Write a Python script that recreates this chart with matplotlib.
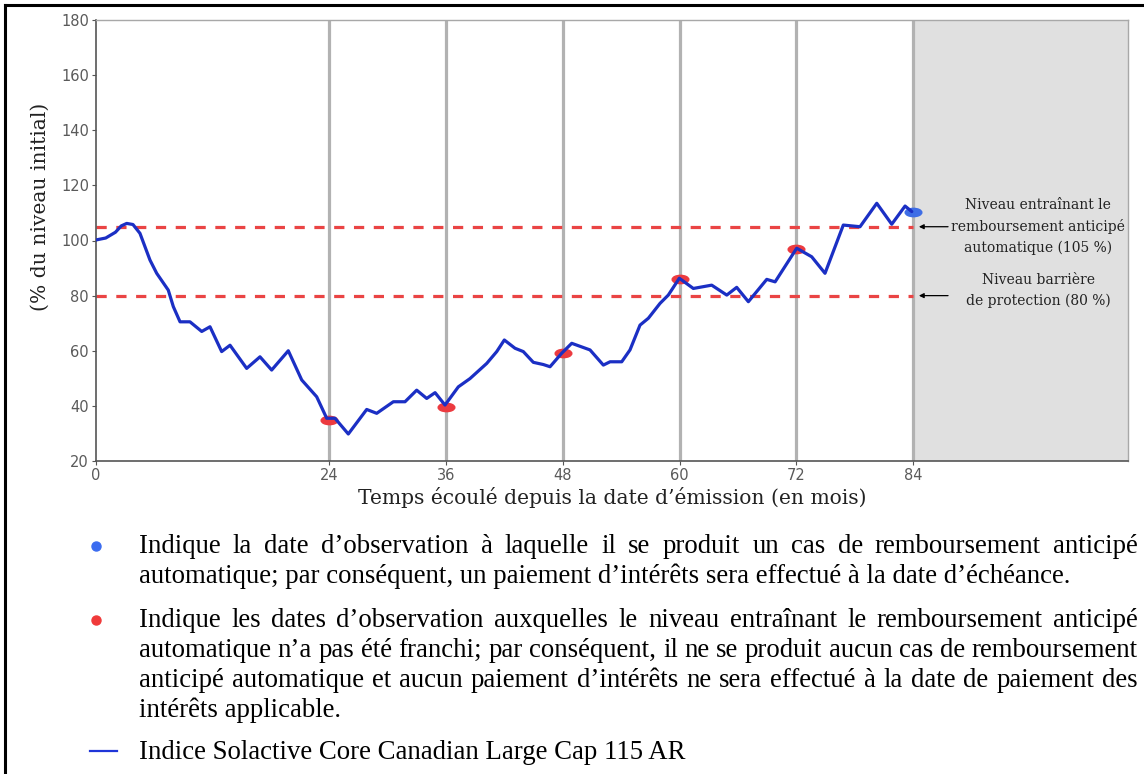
import matplotlib
matplotlib.use('Agg')
import matplotlib.pyplot as plt
from matplotlib.lines import Line2D
from matplotlib.markers import MarkerStyle
from matplotlib.path import Path
from matplotlib.transforms import Affine2D

W, H = 1144, 774

# traced index level (% of initial level) against months since issue
months = [
    0.0, 1.0, 2.0, 2.6, 3.16, 3.8, 4.52, 5.55, 6.24, 7.43, 7.95, 8.64, 9.66,
    10.87, 11.72, 12.92, 13.78, 15.49, 16.86, 18.06, 19.77, 21.15, 22.69,
    23.72, 24.57, 25.94, 27.83, 28.86, 30.57, 31.77, 32.97, 34.0, 34.86,
    35.88, 37.25, 38.45, 40.17, 41.2, 41.98, 43.08, 43.93, 44.96, 45.99,
    46.68, 47.88, 48.91, 50.79, 52.16, 52.85, 54.05, 54.9, 55.93, 56.79,
    57.99, 58.84, 59.97, 61.41, 63.3, 64.85, 65.87, 67.07, 68.96, 69.82,
    72.04, 73.58, 74.95, 76.83, 78.55, 80.27, 81.81, 83.18, 83.87,
]
levels = [
    100.2, 100.9, 103.0, 105.3, 106.2, 105.8, 102.6, 92.9, 88.1, 82.0, 76.0, 70.5, 70.5,
    67.0, 68.7, 59.7, 62.0, 53.6, 57.8, 53.0, 60.0, 49.4, 43.3,
    35.5, 35.5, 29.8, 38.7, 37.3, 41.5, 41.5, 45.7, 42.7, 44.8,
    40.3, 46.9, 49.9, 55.4, 59.7, 63.9, 60.9, 59.7, 55.8, 55.0,
    54.2, 59.1, 62.7, 60.3, 54.8, 56.0, 56.0, 60.3, 69.3, 71.8,
    77.2, 80.2, 86.3, 82.6, 83.8, 80.2, 83.0, 77.8, 85.9, 85.0,
    97.2, 94.1, 88.1, 105.6, 105.0, 113.5, 105.9, 112.5, 110.5,
]

obs_months = [24, 36, 48, 60, 72]
obs_levels = [34.9, 39.7, 59.1, 86.0, 96.9]
call_months = [84]
call_levels = [110.2]

autocall_level = 105
barrier_level = 80
x_ticks = [0, 24, 36, 48, 60, 72, 84]
y_ticks = [20, 40, 60, 80, 100, 120, 140, 160, 180]

autocall_note = 'Niveau entraînant le\nremboursement anticipé\nautomatique (105 %)'
barrier_note = 'Niveau barrière\nde protection (80 %)'

notes = [
    ('bullet', '#3b6cf0', 553, [
        ('Indique la date d’observation à laquelle il se produit un cas de remboursement anticipé', True),
        ('automatique; par conséquent, un paiement d’intérêts sera effectué à la date d’échéance.', False),
    ]),
    ('bullet', '#f03a3a', 627, [
        ('Indique les dates d’observation auxquelles le niveau entraînant le remboursement anticipé', True),
        ('automatique n’a pas été franchi; par conséquent, il ne se produit aucun cas de remboursement', True),
        ('anticipé automatique et aucun paiement d’intérêts ne sera effectué à la date de paiement des', True),
        ('intérêts applicable.', False),
    ]),
    ('dash', '#1f35d8', 759, [
        ('Indice Solactive Core Canadian Large Cap 115 AR', False),
    ]),
]


def fx(x):
    return x / W


def fy(y):
    return 1 - y / H


fig = plt.figure(figsize=(W / 100, H / 100), dpi=100, facecolor='white')
ax = fig.add_axes([fx(96), fy(461), fx(1128 - 96), (461 - 20) / H])

ax.set_xlim(0, 106.1)
ax.set_ylim(20, 180)

ax.axvspan(84, 106.1, color='#e0e0e0', zorder=0, lw=0)

for m in x_ticks[1:]:
    ax.axvline(m, color='#b2b2b2', lw=2.3, zorder=1)

for lvl in (autocall_level, barrier_level):
    ax.plot([0, 84], [lvl, lvl], color='#ea4444', lw=2.3,
            dashes=(3.2, 3.0), zorder=2)

oval = MarkerStyle(Path.unit_circle().transformed(Affine2D().scale(1, 0.5)))
ax.plot(obs_months, obs_levels, ls='none', marker=oval, ms=12,
        color='#ec3a3f', zorder=3)
ax.plot(call_months, call_levels, ls='none', marker=oval, ms=12,
        color='#3e6de6', zorder=3)

ax.plot(months, levels, color='#1b2fc4', lw=2.3, zorder=4,
        solid_joinstyle='round', solid_capstyle='round')

ax.set_xticks(x_ticks)
ax.set_yticks(y_ticks)
ax.tick_params(colors='#555555', labelsize=10.5, length=3, width=0.8,
               labelcolor='#5a5a5a', pad=2)
for side in ('left', 'bottom'):
    ax.spines[side].set_color('#555555')
    ax.spines[side].set_linewidth(1.2)
for side in ('top', 'right'):
    ax.spines[side].set_color('#a8a8a8')
    ax.spines[side].set_linewidth(1.0)

serif = 'DejaVu Serif'
ax.set_ylabel('(% du niveau initial)', family=serif, fontsize=14.6, color='#222222')
ax.yaxis.set_label_coords(-0.0446, 0.576)
ax.set_xlabel('Temps écoulé depuis la date d’émission (en mois)', family=serif,
              fontsize=14.6, color='#222222')
ax.xaxis.set_label_coords(0.5, -0.058)

ax.text(96.85, 105, autocall_note, ha='center', va='center', family=serif,
        fontsize=10, linespacing=1.6, color='#222222')
ax.text(96.85, 81.9, barrier_note, ha='center', va='center', family=serif,
        fontsize=10, linespacing=1.6, color='#222222')
arrow = dict(arrowstyle='-|>', color='black', lw=0.9, mutation_scale=7,
             shrinkA=0, shrinkB=0)
ax.annotate('', xy=(84.6, autocall_level), xytext=(87.6, autocall_level),
            arrowprops=arrow)
ax.annotate('', xy=(84.6, barrier_level), xytext=(87.6, barrier_level),
            arrowprops=arrow)

# outer frame (top and left only)
fig.add_artist(Line2D([fx(5), fx(W)], [fy(5), fy(5)], color='black', lw=2.2,
                      transform=fig.transFigure))
fig.add_artist(Line2D([fx(5), fx(5)], [fy(5), fy(H)], color='black', lw=2.2,
                      transform=fig.transFigure))

# notes under the chart, justified like the source document
renderer = fig.canvas.get_renderer()
text_kw = dict(family='Liberation Serif', fontsize=19.3, color='black',
               va='baseline', ha='left')
x0, x1 = 139, 1138
line_gap = 30

for kind, color, y, lines in notes:
    if kind == 'bullet':
        fig.add_artist(Line2D([fx(96)], [fy(y - 7)], marker='o', ms=6.5,
                              color=color, transform=fig.transFigure))
    else:
        fig.add_artist(Line2D([fx(90), fx(117)], [fy(y - 8), fy(y - 8)],
                              color=color, lw=1.6, transform=fig.transFigure))
    for i, (line, justify) in enumerate(lines):
        yy = fy(y + i * line_gap)
        if not justify:
            fig.text(fx(x0), yy, line, **text_kw)
            continue
        words = line.split(' ')
        arts = [fig.text(0, yy, w, **text_kw) for w in words]
        widths = [a.get_window_extent(renderer).width for a in arts]
        gap = (x1 - x0 - sum(widths)) / (len(words) - 1)
        pos = x0
        for a, w in zip(arts, widths):
            a.set_x(fx(pos))
            pos += w + gap

fig.savefig('out.png', dpi=100, facecolor='white')
